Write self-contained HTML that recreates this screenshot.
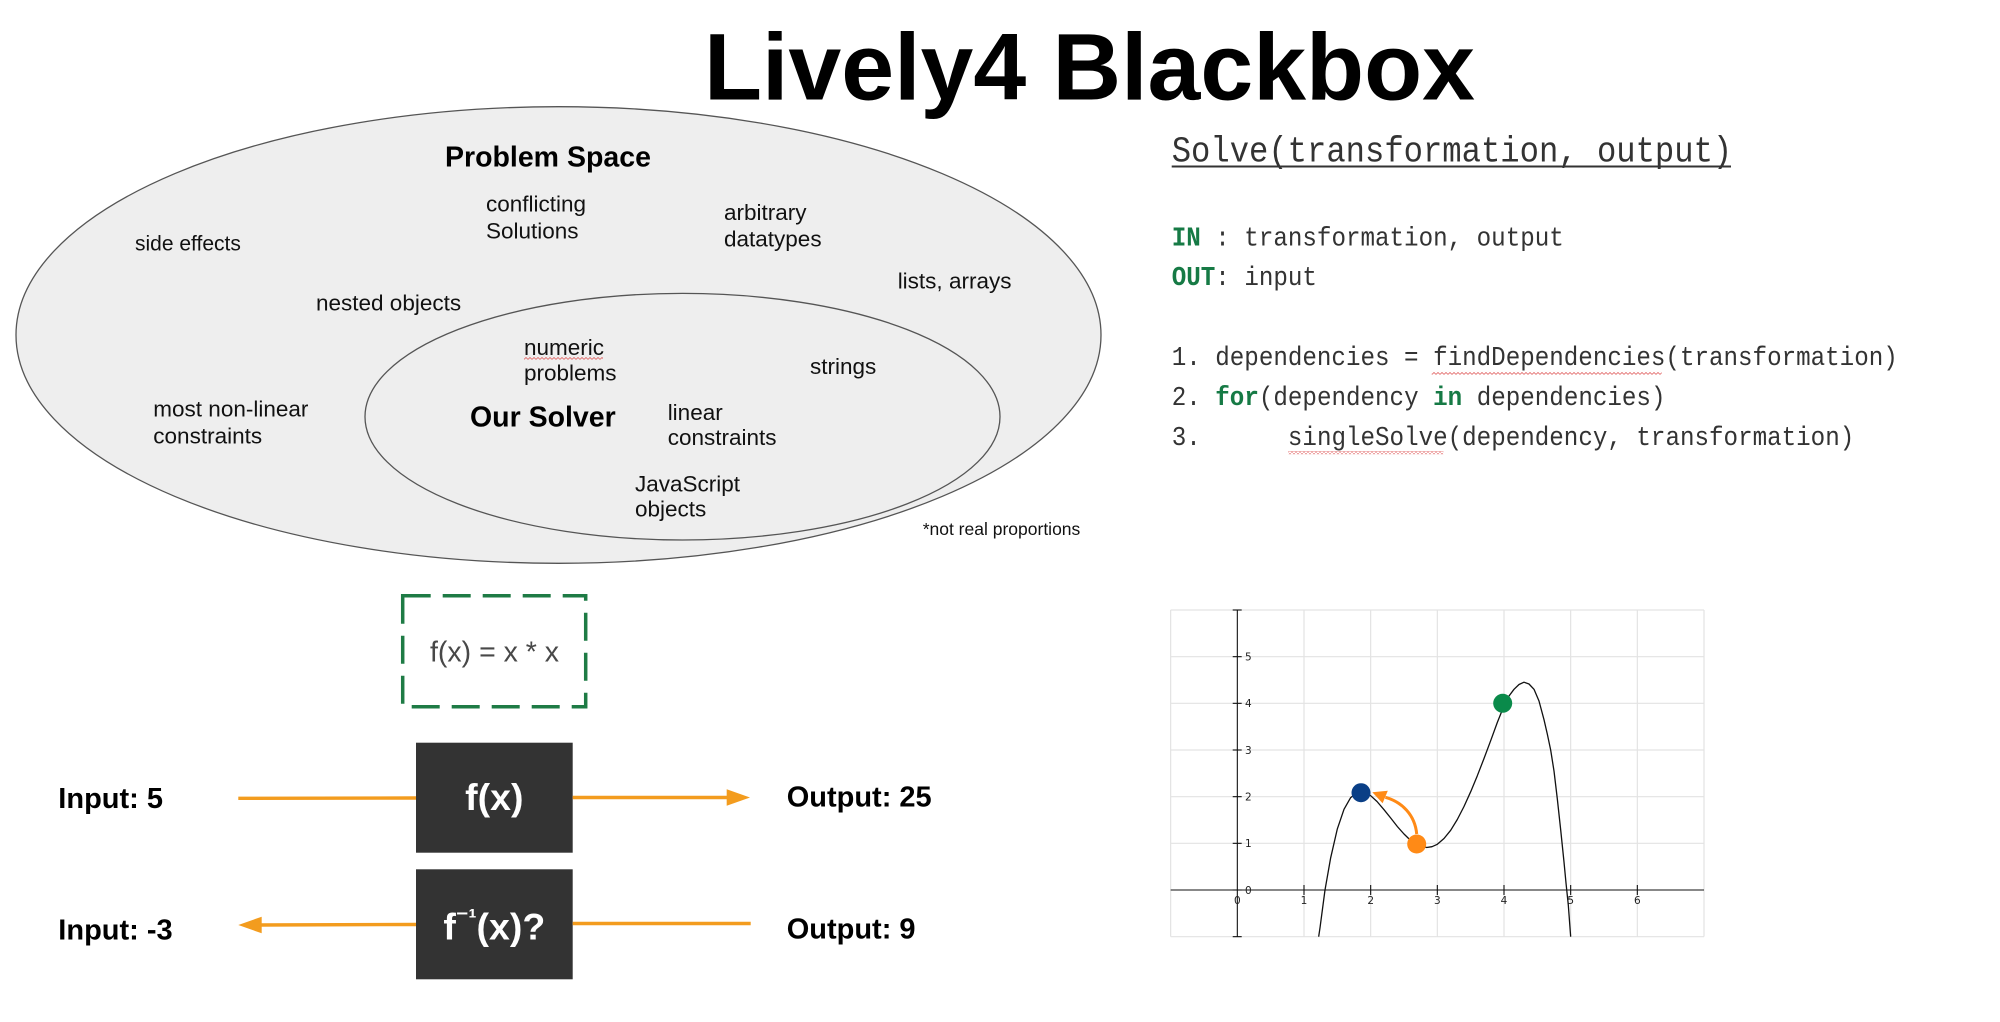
<!DOCTYPE html>
<html><head><meta charset="utf-8"><style>
html,body{margin:0;padding:0;background:#fff;}
svg{display:block;}
text{font-family:"Liberation Sans",Arial,sans-serif;}
.m{font-family:"Liberation Mono","DejaVu Sans Mono",monospace;font-size:26.9px;fill:#333;}
.g{fill:#167a45;font-weight:bold;}
.t{font-size:22.5px;fill:#111;}
.gl{font-size:10.5px;fill:#222;font-family:"DejaVu Sans","Liberation Sans",sans-serif;}
</style></head><body>
<svg width="2000" height="1022" viewBox="0 0 2000 1022" xmlns="http://www.w3.org/2000/svg">
<defs>
<pattern id="sq" width="4" height="3" patternUnits="userSpaceOnUse">
<path d="M0 2.5 L2 0.5 L4 2.5" fill="none" stroke="#e06060" stroke-width="0.8"/>
</pattern>
</defs>
<rect width="2000" height="1022" fill="#fff"/>

<!-- Title -->
<text x="704" y="99.3" font-size="95" font-weight="bold" fill="#000">Lively4 Blackbox</text>

<!-- Venn -->
<ellipse cx="558.5" cy="335" rx="542.5" ry="228.3" fill="#eeeeee" stroke="#555" stroke-width="1.3"/>
<ellipse cx="682.5" cy="416.7" rx="317.5" ry="123.3" fill="#eeeeee" stroke="#555" stroke-width="1.3"/>

<text x="445" y="166.7" font-size="28.5" font-weight="bold" fill="#000">Problem Space</text>
<text class="t" x="486" y="211.7">conflicting</text>
<text class="t" x="486" y="238.3">Solutions</text>
<text class="t" x="135" y="250.7" style="font-size:21px">side effects</text>
<text class="t" x="724" y="220">arbitrary</text>
<text class="t" x="724" y="246.7">datatypes</text>
<text class="t" x="897.7" y="288.3">lists, arrays</text>
<text class="t" x="316" y="310.7">nested objects</text>
<text class="t" x="524" y="355">numeric</text>
<rect x="524" y="356.8" width="79" height="3" fill="url(#sq)"/>
<text class="t" x="524" y="380.7">problems</text>
<text class="t" x="810" y="374">strings</text>
<text class="t" x="153.3" y="416.7">most non-linear</text>
<text class="t" x="153.3" y="443.3">constraints</text>
<text x="470" y="426.7" font-size="28.5" font-weight="bold" fill="#000">Our Solver</text>
<text class="t" x="667.7" y="420">linear</text>
<text class="t" x="667.7" y="445">constraints</text>
<text class="t" x="635" y="491.7">JavaScript</text>
<text class="t" x="635" y="516.7">objects</text>
<text x="922.7" y="535" font-size="17.5" fill="#111">*not real proportions</text>

<!-- Code -->
<text transform="translate(1171.7,161.7) scale(0.9,1)" x="0" y="0" font-size="35.8" fill="#333" style="font-family:'Liberation Mono','DejaVu Sans Mono',monospace">Solve(transformation, output)</text>
<line x1="1171.7" y1="166.5" x2="1731" y2="166.5" stroke="#333" stroke-width="2"/>

<text class="m" transform="translate(1171.7,245.7) scale(0.9,1)"><tspan class="g">IN</tspan> : transformation, output</text>
<text class="m" transform="translate(1171.7,285) scale(0.9,1)"><tspan class="g">OUT</tspan>: input</text>
<text class="m" transform="translate(1171.7,365) scale(0.9,1)">1. dependencies = findDependencies(transformation)</text>
<rect x="1431.7" y="371.8" width="230" height="3" fill="url(#sq)"/>
<text class="m" transform="translate(1171.7,405) scale(0.9,1)">2. <tspan class="g">for</tspan>(dependency <tspan class="g">in</tspan> dependencies)</text>
<text class="m" transform="translate(1171.7,445) scale(0.9,1)">3.</text>
<text class="m" transform="translate(1287.9,445) scale(0.9,1)">singleSolve(dependency, transformation)</text>
<rect x="1288.3" y="451.2" width="155" height="3" fill="url(#sq)"/>

<!-- Black box diagram -->
<rect x="402.7" y="595.7" width="183" height="111" fill="none" stroke="#1e7b45" stroke-width="3.5" stroke-dasharray="28 12"/>
<text x="430" y="661.7" font-size="28.5" fill="#484848">f(x) = x * x</text>

<rect x="416" y="742.7" width="156.7" height="110" fill="#333"/>
<rect x="416" y="869.3" width="156.7" height="110" fill="#333"/>
<text x="494.3" y="810" font-size="37.5" font-weight="bold" fill="#fff" text-anchor="middle">f(x)</text>
<text x="494.3" y="939.3" font-size="37.5" font-weight="bold" fill="#fff" text-anchor="middle">f<tspan font-size="24" dy="-14">⁻¹</tspan><tspan dy="14">(x)?</tspan></text>

<text x="58.3" y="808" font-size="29" font-weight="bold" fill="#000">Input: 5</text>
<text x="58.3" y="939.3" font-size="29" font-weight="bold" fill="#000">Input: -3</text>
<text x="786.7" y="806.7" font-size="29" font-weight="bold" fill="#000">Output: 25</text>
<text x="786.7" y="938.3" font-size="29" font-weight="bold" fill="#000">Output: 9</text>

<g stroke="#f39c1e" stroke-width="3.4" fill="none">
<line x1="238.3" y1="798.3" x2="416" y2="798"/>
<line x1="572.7" y1="797.5" x2="730" y2="797.5"/>
<line x1="572.7" y1="923.5" x2="750.7" y2="923.5"/>
<line x1="416" y1="924.5" x2="258" y2="925"/>
</g>
<polygon points="726.7,789.2 750,797.5 726.7,805.8" fill="#f39c1e"/>
<polygon points="261.7,916.7 238.3,925 261.7,933.3" fill="#f39c1e"/>

<!-- Graph -->
<rect x="1170.7" y="610" width="533.3" height="326.7" fill="#fff"/>
<g stroke="#e3e3e3" stroke-width="1.2">
<line x1="1170.67" y1="610" x2="1170.67" y2="936.67"/>
<line x1="1304" y1="610" x2="1304" y2="936.67"/>
<line x1="1370.67" y1="610" x2="1370.67" y2="936.67"/>
<line x1="1437.33" y1="610" x2="1437.33" y2="936.67"/>
<line x1="1504" y1="610" x2="1504" y2="936.67"/>
<line x1="1570.67" y1="610" x2="1570.67" y2="936.67"/>
<line x1="1637.33" y1="610" x2="1637.33" y2="936.67"/>
<line x1="1704" y1="610" x2="1704" y2="936.67"/>
<line x1="1170.67" y1="610" x2="1704" y2="610"/>
<line x1="1170.67" y1="656.67" x2="1704" y2="656.67"/>
<line x1="1170.67" y1="703.33" x2="1704" y2="703.33"/>
<line x1="1170.67" y1="750" x2="1704" y2="750"/>
<line x1="1170.67" y1="796.67" x2="1704" y2="796.67"/>
<line x1="1170.67" y1="843.33" x2="1704" y2="843.33"/>
<line x1="1170.67" y1="936.67" x2="1704" y2="936.67"/>
</g>
<g stroke="#111" stroke-width="1.1">
<line x1="1170.67" y1="890" x2="1704" y2="890"/>
<line x1="1237.33" y1="610" x2="1237.33" y2="936.67"/>
<line x1="1232.7" y1="656.67" x2="1241.7" y2="656.67"/>
<line x1="1232.7" y1="703.33" x2="1241.7" y2="703.33"/>
<line x1="1232.7" y1="750" x2="1241.7" y2="750"/>
<line x1="1232.7" y1="796.67" x2="1241.7" y2="796.67"/>
<line x1="1232.7" y1="843.33" x2="1241.7" y2="843.33"/>
<line x1="1232.7" y1="890" x2="1241.7" y2="890"/>
<line x1="1232.7" y1="610" x2="1241.7" y2="610"/>
<line x1="1232.7" y1="936.67" x2="1241.7" y2="936.67"/>
<line x1="1304" y1="885" x2="1304" y2="895"/>
<line x1="1370.67" y1="885" x2="1370.67" y2="895"/>
<line x1="1437.33" y1="885" x2="1437.33" y2="895"/>
<line x1="1504" y1="885" x2="1504" y2="895"/>
<line x1="1570.67" y1="885" x2="1570.67" y2="895"/>
<line x1="1637.33" y1="885" x2="1637.33" y2="895"/>
</g>
<text class="gl" x="1245" y="660.5">5</text>
<text class="gl" x="1245" y="707.2">4</text>
<text class="gl" x="1245" y="753.8">3</text>
<text class="gl" x="1245" y="800.5">2</text>
<text class="gl" x="1245" y="847.2">1</text>
<text class="gl" x="1245" y="893.8">0</text>
<g text-anchor="middle">
<text class="gl" x="1237.33" y="904">0</text>
<text class="gl" x="1304" y="904">1</text>
<text class="gl" x="1370.67" y="904">2</text>
<text class="gl" x="1437.33" y="904">3</text>
<text class="gl" x="1504" y="904">4</text>
<text class="gl" x="1570.67" y="904">5</text>
<text class="gl" x="1637.33" y="904">6</text>
</g>
<polyline fill="none" stroke="#111" stroke-width="1.3" stroke-linejoin="round" points="1318.67,936.67 1320,927.8 1325,890 1330.67,857.8 1337.33,828.9 1344,809.3 1350.67,797.6 1356,793.5 1361,792 1366,793 1370.67,795.7 1377,801.5 1384,809.7 1390.7,818 1397.33,826.5 1404,834 1410.67,840.5 1418.7,845.2 1426.67,847.5 1432,846.7 1437.33,844.3 1444,838.5 1450.67,830.3 1457.3,819.5 1464,806.5 1470.7,791.7 1477.33,775.7 1484,758.5 1490.67,740.7 1497.3,722.5 1504,705.7 1509,696 1514,689.3 1519,684.5 1524,682.2 1529,684 1534,689.3 1539,701 1544,719.7 1547.3,734 1550.67,750 1554,771 1557.33,799 1560.7,830 1564,862 1566,883 1568.3,905 1570.67,936.67"/>
<circle cx="1361" cy="792.7" r="9.5" fill="#0a3f86"/>
<circle cx="1502.7" cy="703.3" r="9.5" fill="#0a8a4a"/>
<circle cx="1416.7" cy="844" r="9.5" fill="#ff8a16"/>
<path d="M1416.7 834 C1415 815 1402 802 1385.4 797.3" fill="none" stroke="#ff8a16" stroke-width="3"/>
<polygon points="1372.3,792.3 1387.8,790.8 1382.6,803.2" fill="#ff8a16"/>
</svg>
</body></html>
